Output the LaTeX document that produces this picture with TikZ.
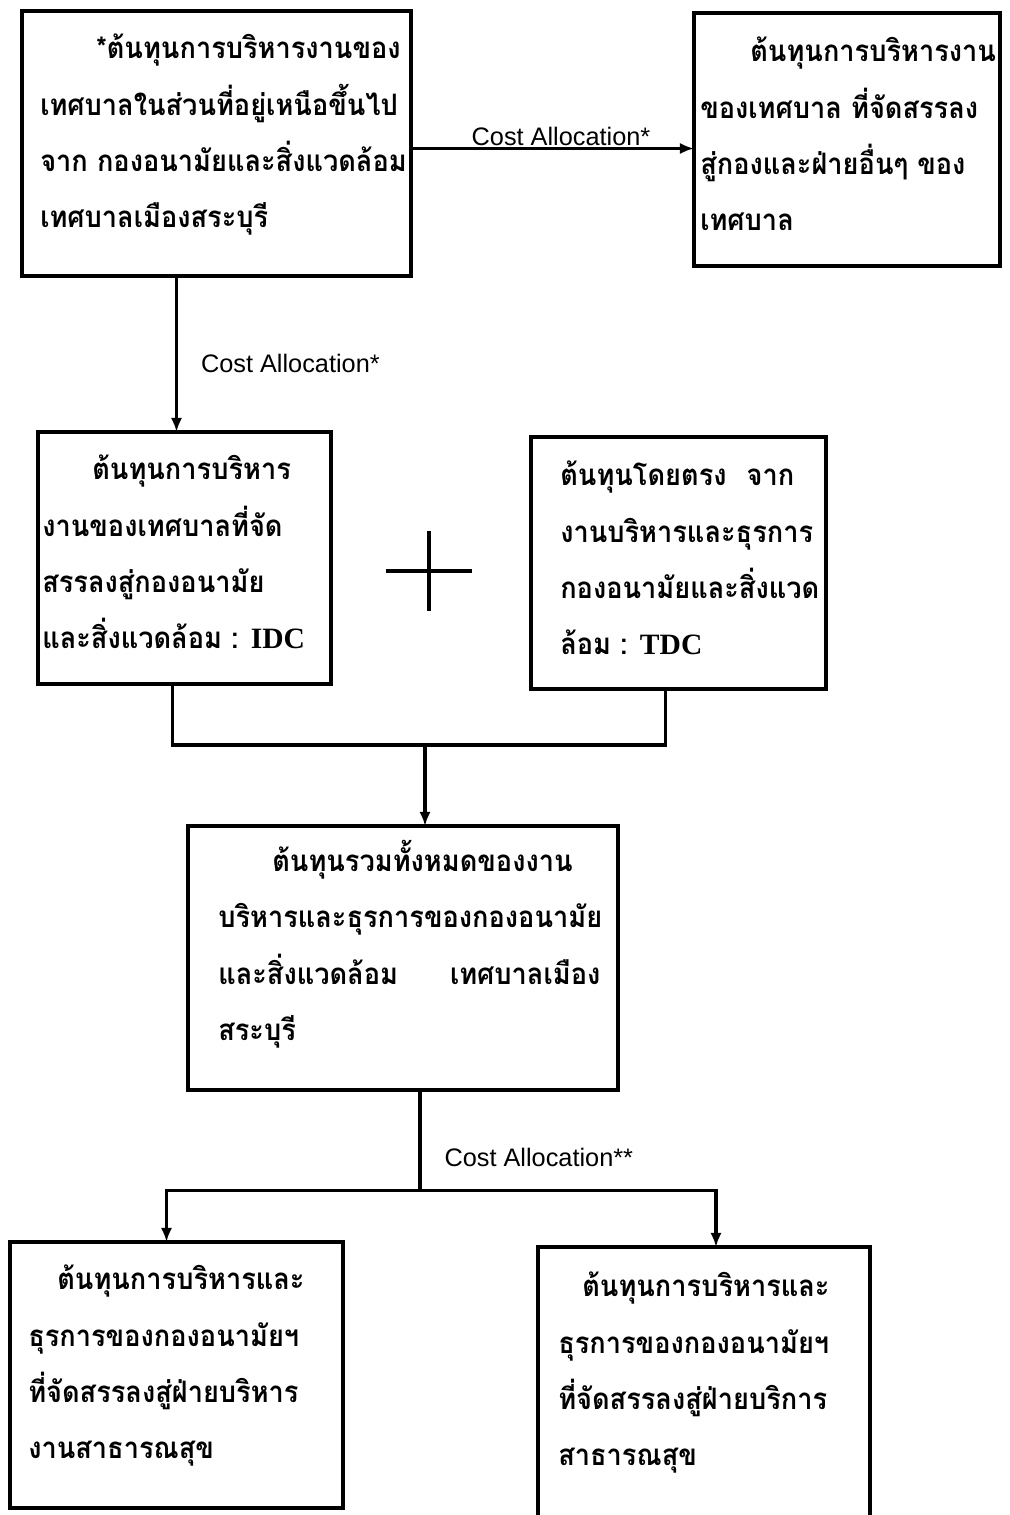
\documentclass[tikz,border=0pt]{standalone}
\usepackage{fontspec}
\usetikzlibrary{arrows.meta, calc}
\newfontfamily\thaifont[Script=Thai, FakeStretch=0.92]{Loma}
\newfontfamily\latinserif{Liberation Serif}
\newfontfamily\labelsans{Liberation Sans}
\newcommand{\costcode}[1]{{\latinserif\bfseries #1}}

\begin{document}
\begin{tikzpicture}[x=0.025cm, y=-0.025cm,
        box/.style={draw, line width=2.6pt, inner sep=0pt, outer sep=0pt},
        boxtext/.style={anchor=north west, align=left, inner sep=0pt,
            font=\thaifont\bfseries\fontsize{21}{40}\selectfont},
        link/.style={line width=2.2pt},
        arr/.style={link, -{Latex[length=10pt, width=8pt]}},
        costlabel/.style={font=\labelsans\fontsize{18}{20}\selectfont, inner sep=1pt}]
        % Page frame
        \useasboundingbox (0, 0) rectangle (1009, 1515);
        \clip (0, 0) rectangle (1009, 1515);
        % Upper municipal cost box
        \node [box, minimum width=9.725cm, minimum height=6.625cm] (upper) at (216.5, 143.5) {};
        \node [boxtext] (upper-txt) at (40, 34) {\hspace*{1.4cm}*ต้นทุนการบริหารงานของ\\เทศบาลในส่วนที่อยู่เหนือขึ้นไป\\จาก กองอนามัยและสิ่งแวดล้อม\\เทศบาลเมืองสระบุรี};
        % Other divisions box
        \node [box, minimum width=7.65cm, minimum height=6.325cm] (other) at (847, 139.5) {};
        \node [boxtext] (other-txt) at (700, 37) {\hspace*{1.25cm}ต้นทุนการบริหารงาน\\ของเทศบาล ที่จัดสรรลง\\สู่กองและฝ่ายอื่นๆ ของ\\เทศบาล};
        % Upper to other arrow
        \draw [arr] ($(upper.east)+(0, 5)$) coordinate (toright) -- (toright -| other.west)
            node [costlabel, pos=0.53, above] (alloc-top) {Cost Allocation*};
        % IDC box
        \node [box, minimum width=7.325cm, minimum height=6.3cm] (idc) at (184.5, 558) {};
        \node [boxtext] (idc-txt) at (42, 455) {\hspace*{1.25cm}ต้นทุนการบริหาร\\งานของเทศบาลที่จัด\\สรรลงสู่กองอนามัย\\และสิ่งแวดล้อม : \costcode{IDC}};
        % Upper to IDC arrow
        \coordinate (idc-in) at ($(idc.north)+(-8, 0)$);
        \draw [arr] (upper.south -| idc-in) -- (idc-in)
            node [costlabel, pos=0.56, right=0.54cm] (alloc-left) {Cost Allocation*};
        % Plus sign
        \coordinate (plus) at (429, 571);
        \draw [link, line width=2.8pt] ($(plus)+(-43, 0)$) -- ($(plus)+(43, 0)$);
        \draw [link, line width=2.8pt] ($(plus)+(0, -40)$) -- ($(plus)+(0, 40)$);
        % TDC box
        \node [box, minimum width=7.375cm, minimum height=6.3cm] (tdc) at (678.5, 563) {};
        \node [boxtext] (tdc-txt) at (560, 461) {ต้นทุนโดยตรง\hspace{0.5cm}จาก\\งานบริหารและธุรการ\\กองอนามัยและสิ่งแวด\\ล้อม : \costcode{TDC}};
        % Total cost box
        \node [box, minimum width=10.75cm, minimum height=6.6cm] (total) at (403, 958) {};
        \node [boxtext] (total-txt) at (218, 840) {\hspace*{1.35cm}ต้นทุนรวมทั้งหมดของงาน\\บริหารและธุรการของกองอนามัย\\และสิ่งแวดล้อม\hspace{1.3cm}เทศบาลเมือง\\สระบุรี};
        % IDC and TDC into total
        \coordinate (idc-out) at ($(idc.south)+(-12, 0)$);
        \coordinate (tdc-out) at ($(tdc.south)+(-13, 0)$);
        \coordinate (total-in) at ($(total.north)+(22, 0)$);
        \coordinate (merge) at ($(total-in)+(0, -81)$);
        \draw [link] (idc-out) |- (merge -| tdc-out) -- (tdc-out);
        \draw [arr] (merge) -- (total-in);
        % Administration share box
        \node [box, minimum width=8.325cm, minimum height=6.65cm] (admin) at (176.5, 1375) {};
        \node [boxtext] (admin-txt) at (28, 1265) {\hspace*{0.725cm}ต้นทุนการบริหารและ\\ธุรการของกองอนามัยฯ\\ที่จัดสรรลงสู่ฝ่ายบริหาร\\งานสาธารณสุข};
        % Service share box
        \node [box, minimum width=8.3cm, minimum height=7.075cm] (service) at (704, 1388.5) {};
        \node [boxtext] (service-txt) at (558, 1272) {\hspace*{0.6cm}ต้นทุนการบริหารและ\\ธุรการของกองอนามัยฯ\\ที่จัดสรรลงสู่ฝ่ายบริการ\\สาธารณสุข};
        % Total to both shares
        \coordinate (total-out) at ($(total.south)+(17, 0)$);
        \coordinate (split) at ($(total-out)+(0, 100)$);
        \coordinate (admin-in) at ($(admin.north)+(-10, 0)$);
        \coordinate (service-in) at ($(service.north)+(12, 0)$);
        \draw [link] (total-out) -- (split)
            node [costlabel, pos=0.67, right=0.54cm] (alloc-bottom) {Cost Allocation**};
        \draw [arr] (split) -| (admin-in);
        \draw [arr] (split) -| (service-in);
\end{tikzpicture}
\end{document}
